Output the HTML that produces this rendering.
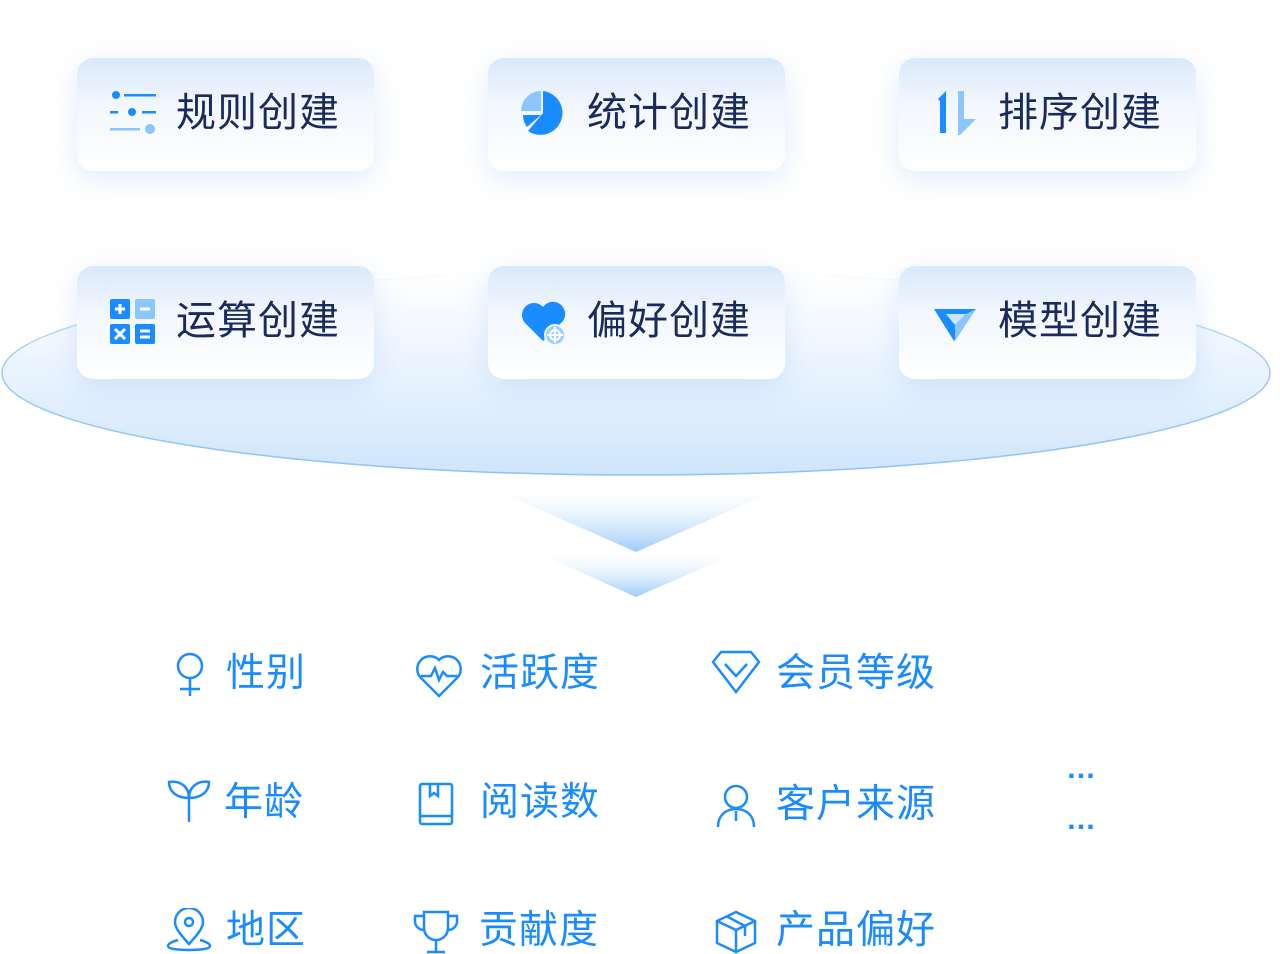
<!DOCTYPE html>
<html><head><meta charset="utf-8"><style>
html,body{margin:0;padding:0;background:#fff;}
#c{position:relative;width:1280px;height:954px;overflow:hidden;background:#fff;font-family:"Liberation Sans","Noto Sans CJK SC",sans-serif;}
.card{position:absolute;width:297px;height:113px;border-radius:16px;background:linear-gradient(180deg,#d9e9fb 0%,#f3f8fe 45%,#ffffff 100%);box-shadow:0 8px 30px rgba(120,170,235,0.22);}
.card .t{position:absolute;left:99px;top:29px;font-size:40px;color:#1b2a5c;line-height:52px;letter-spacing:1px;}
.card svg{position:absolute;left:33px;top:33px;}
.it{position:absolute;font-size:39px;color:#1a8cff;line-height:46px;letter-spacing:1px;}
.ic{position:absolute;}
.dots{position:absolute;font-size:30px;font-weight:bold;color:#1a8cff;letter-spacing:2px;}
</style></head><body><div id="c">
<svg style="position:absolute;left:0;top:0" width="1280" height="954">
<defs>
<linearGradient id="eg" x1="0" y1="0" x2="0" y2="1"><stop offset="0" stop-color="#ffffff"/><stop offset="0.4" stop-color="#eef6ff"/><stop offset="1" stop-color="#cfe5fb"/></linearGradient>
<linearGradient id="sg" x1="0" y1="0" x2="0" y2="1"><stop offset="0" stop-color="#8cc3f4" stop-opacity="0"/><stop offset="0.4" stop-color="#8cc3f4" stop-opacity="0.8"/><stop offset="1" stop-color="#8cc3f4"/></linearGradient>
<linearGradient id="tg" x1="0" y1="0" x2="0" y2="1"><stop offset="0" stop-color="#ffffff" stop-opacity="0.3"/><stop offset="1" stop-color="#9ccbf7"/></linearGradient>
</defs>
<ellipse cx="636" cy="373" rx="634" ry="102" fill="url(#eg)" stroke="url(#sg)" stroke-width="1.5"/>
<polygon points="495,490 777,490 636,552" fill="url(#tg)"/>
<polygon points="540,554 735,554 636,597" fill="url(#tg)"/>
</svg>

<div class="card" style="left:77px;top:58px"><svg width="46" height="46" viewBox="0 0 46 46"><circle cx="6" cy="4" r="4" fill="#1a8cff"/><rect x="14" y="3" width="32" height="2.5" fill="#1a8cff"/><rect x="0" y="20" width="8" height="2.5" fill="#1a8cff"/><circle cx="22" cy="21" r="4" fill="#1a8cff"/><rect x="32" y="20" width="14" height="2.5" fill="#1a8cff"/><rect x="0" y="37" width="30" height="2.5" fill="#8cc6ff"/><circle cx="40" cy="38" r="5" fill="#8cc6ff"/></svg><div class="t">规则创建</div></div>
<div class="card" style="left:488px;top:58px"><svg width="46" height="46" viewBox="0 0 46 46"><path d="M22 22 L22 0 A22 22 0 1 1 7 40 Z" fill="#1a8cff"/><path d="M20 20 L20 0 A20 20 0 0 0 0 20Z" fill="#8cc6ff"/><path d="M20 24 L2 24 A20 20 0 0 0 6 36Z" fill="#1a8cff"/></svg><div class="t">统计创建</div></div>
<div class="card" style="left:899px;top:58px"><svg width="46" height="46" viewBox="0 0 46 46"><path d="M6 8 L14 0 L14 42 L8 42 L8 10Z" fill="#1a8cff"/><path d="M26 0 L32 0 L32 28 L44 28 L28 44 L26 44Z" fill="#8cc6ff"/></svg><div class="t">排序创建</div></div>
<div class="card" style="left:77px;top:266px"><svg width="46" height="46" viewBox="0 0 46 46"><rect x="0" y="0" width="20" height="20" rx="2" fill="#1a8cff"/><rect x="25" y="0" width="20" height="20" rx="2" fill="#8cc6ff"/><rect x="0" y="25" width="20" height="20" rx="2" fill="#1a8cff"/><rect x="25" y="25" width="20" height="20" rx="2" fill="#1a8cff"/><path d="M10 5v10M5 10h10M30 10h10M5 30l10 10M15 30l-10 10M30 32h10M30 38h10" stroke="#fff" stroke-width="3"/></svg><div class="t">运算创建</div></div>
<div class="card" style="left:488px;top:266px"><svg width="46" height="46" viewBox="0 0 46 46"><path d="M22 42 L4 24 A10 10 0 0 1 22 8 A10 10 0 0 1 42 22 Z" fill="#1a8cff"/><circle cx="34" cy="36" r="10" fill="#9ccdff" stroke="#f3f8fe" stroke-width="2"/><circle cx="34" cy="36" r="5" fill="none" stroke="#fff" stroke-width="2"/><path d="M34 28v16M26 36h16" stroke="#fff" stroke-width="2"/></svg><div class="t">偏好创建</div></div>
<div class="card" style="left:899px;top:266px"><svg width="46" height="46" viewBox="0 0 46 46"><path d="M2 10 L44 10 L22 42Z" fill="#1a8cff"/><path d="M14 15 L34 15 L23 26Z" fill="#cfe5fb"/><path d="M34 15 L44 10 L23 42 L23 26Z" fill="#8cc6ff"/></svg><div class="t">模型创建</div></div>

<svg class="ic" style="left:172px;top:651px" width="36" height="46" viewBox="0 0 36 46" fill="none" stroke="#1a8cff" stroke-width="2.5"><circle cx="18" cy="15" r="12"/><path d="M18 27v18M8 38h20"/></svg>
<div class="it" style="left:226px;top:651px">性别</div>
<svg class="ic" style="left:415px;top:652px" width="48" height="46" viewBox="0 0 48 46" fill="none" stroke="#1a8cff" stroke-width="2.5"><path d="M24 44 L6 26 A11 11 0 0 1 24 8 A11 11 0 0 1 42 26 Z"/><path d="M6 24h10l4-8 4 12 4-8 4 4h10"/></svg>
<div class="it" style="left:480px;top:651px">活跃度</div>
<svg class="ic" style="left:711px;top:650px" width="50" height="44" viewBox="0 0 50 44" fill="none" stroke="#1a8cff" stroke-width="2.5"><path d="M2 12 L10 2 H40 L48 12 L25 42Z"/><path d="M14 14 L25 26 L36 14"/></svg>
<div class="it" style="left:776px;top:651px">会员等级</div>

<svg class="ic" style="left:167px;top:778px" width="44" height="46" viewBox="0 0 44 46" fill="none" stroke="#1a8cff" stroke-width="2.5"><path d="M22 44V20M22 20C22 8 12 2 2 4C2 14 10 20 22 20C34 20 42 14 42 4C32 2 22 8 22 20"/></svg>
<div class="it" style="left:224px;top:780px">年龄</div>
<svg class="ic" style="left:418px;top:782px" width="38" height="46" viewBox="0 0 38 46" fill="none" stroke="#1a8cff" stroke-width="2.5"><rect x="2" y="2" width="32" height="40" rx="2"/><path d="M2 34h32M12 2v12l4-3 4 3V2"/></svg>
<div class="it" style="left:480px;top:780px">阅读数</div>
<svg class="ic" style="left:715px;top:783px" width="42" height="46" viewBox="0 0 42 46" fill="none" stroke="#1a8cff" stroke-width="2.5"><circle cx="21" cy="14" r="11"/><path d="M3 44C3 32 11 26 21 26C31 26 39 32 39 44M21 28v10"/></svg>
<div class="it" style="left:776px;top:782px">客户来源</div>
<div class="dots" style="left:1066px;top:752px">…</div>
<div class="dots" style="left:1066px;top:803px">…</div>

<svg class="ic" style="left:166px;top:908px" width="46" height="44" viewBox="0 0 46 44" fill="none" stroke="#1a8cff" stroke-width="2.5"><path d="M23 36 C14 26 9 20 9 14 A14 14 0 0 1 37 14 C37 20 32 26 23 36Z"/><circle cx="23" cy="14" r="4"/><path d="M12 32C5 34 2 36 2 38C2 41 12 42 23 42C34 42 44 41 44 38C44 36 41 34 34 32"/></svg>
<div class="it" style="left:226px;top:908px">地区</div>
<svg class="ic" style="left:413px;top:910px" width="46" height="44" viewBox="0 0 46 44" fill="none" stroke="#1a8cff" stroke-width="2.5"><path d="M11 2H35V18A12 12 0 0 1 11 18Z"/><path d="M11 6H2V12A9 9 0 0 0 11 20M35 6H44V12A9 9 0 0 1 35 20M23 30V42M14 42H32"/></svg>
<div class="it" style="left:479px;top:908px">贡献度</div>
<svg class="ic" style="left:715px;top:910px" width="42" height="44" viewBox="0 0 42 44" fill="none" stroke="#1a8cff" stroke-width="2.5"><path d="M21 2L40 11V33L21 42L2 33V11Z"/><path d="M2 11L21 20L40 11M21 20V42M11 6L30 16V26"/></svg>
<div class="it" style="left:776px;top:908px">产品偏好</div>
</div></body></html>
